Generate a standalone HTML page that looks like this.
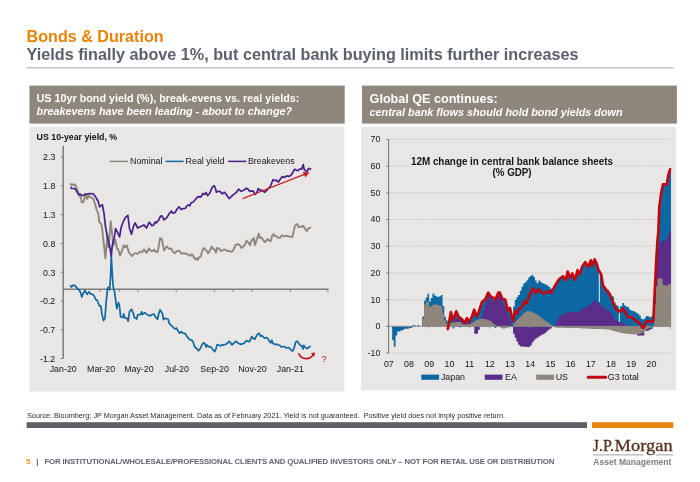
<!DOCTYPE html>
<html><head><meta charset="utf-8"><title>Bonds &amp; Duration</title>
<style>
html,body{margin:0;padding:0;background:#fff;}
body{width:700px;height:482px;overflow:hidden;font-family:"Liberation Sans",Arial,sans-serif;}
svg{display:block;}
text{font-family:"Liberation Sans",Arial,sans-serif;}
.ax{font-size:8.85px;fill:#14141c;}
.ct{font-size:10.2px;font-weight:bold;fill:#15151c;}
.lt{font-size:8.8px;font-weight:bold;fill:#111;}
.h1{font-size:16px;font-weight:bold;fill:#ec8205;}
.h2{font-size:16.15px;font-weight:bold;fill:#5a616d;}
.ph{font-size:10.75px;font-weight:bold;fill:#fff;}
.phi{font-size:10.78px;font-weight:bold;font-style:italic;fill:#fff;}
.src{font-size:7.7px;fill:#2a2a2a;}
.ft{font-size:7.8px;font-weight:bold;fill:#5f6570;}
</style></head><body>
<svg width="700" height="482" viewBox="0 0 700 482">
<rect width="700" height="482" fill="#fff"/>
<text x="26.6" y="41.5" class="h1" textLength="137" lengthAdjust="spacingAndGlyphs">Bonds &amp; Duration</text>
<text x="26.6" y="59.8" class="h2" textLength="552" lengthAdjust="spacingAndGlyphs">Yields finally above 1%, but central bank buying limits further increases</text>
<rect x="26.6" y="67.3" width="646.8" height="1" fill="#a9a9a9"/>
<!-- left panel -->
<rect x="29.5" y="85.6" width="315.2" height="38" fill="#8f877c"/>
<rect x="29.5" y="127" width="314.9" height="264.4" fill="#e8e7e5"/>
<text x="36.6" y="101.6" class="ph" textLength="262.7" lengthAdjust="spacingAndGlyphs">US 10yr bond yield (%), break-evens vs. real yields:</text>
<text x="36.6" y="114.8" class="phi" textLength="255.5" lengthAdjust="spacingAndGlyphs">breakevens have been leading - about to change?</text>
<line x1="63.2" x2="63.2" y1="145.8" y2="358.6" stroke="#7a7a7a" stroke-width="1.5"/>
<line x1="62.6" x2="328.5" y1="289.3" y2="289.3" stroke="#7a7a7a" stroke-width="1.5"/>
<line x1="60.6" x2="63.2" y1="157.0" y2="157.0" stroke="#808080" stroke-width="1"/>
<text x="55.3" y="160.4" text-anchor="end" class="ax">2.3</text>
<line x1="60.6" x2="63.2" y1="185.8" y2="185.8" stroke="#808080" stroke-width="1"/>
<text x="55.3" y="189.2" text-anchor="end" class="ax">1.8</text>
<line x1="60.6" x2="63.2" y1="214.6" y2="214.6" stroke="#808080" stroke-width="1"/>
<text x="55.3" y="218.0" text-anchor="end" class="ax">1.3</text>
<line x1="60.6" x2="63.2" y1="243.4" y2="243.4" stroke="#808080" stroke-width="1"/>
<text x="55.3" y="246.8" text-anchor="end" class="ax">0.8</text>
<line x1="60.6" x2="63.2" y1="272.2" y2="272.2" stroke="#808080" stroke-width="1"/>
<text x="55.3" y="275.6" text-anchor="end" class="ax">0.3</text>
<line x1="60.6" x2="63.2" y1="301.0" y2="301.0" stroke="#808080" stroke-width="1"/>
<text x="55.3" y="304.4" text-anchor="end" class="ax">-0.2</text>
<line x1="60.6" x2="63.2" y1="329.8" y2="329.8" stroke="#808080" stroke-width="1"/>
<text x="55.3" y="333.2" text-anchor="end" class="ax">-0.7</text>
<line x1="60.6" x2="63.2" y1="358.6" y2="358.6" stroke="#808080" stroke-width="1"/>
<text x="55.3" y="362.0" text-anchor="end" class="ax">-1.2</text>
<line x1="100.2" x2="100.2" y1="289.3" y2="292" stroke="#808080" stroke-width="1"/>
<line x1="119.2" x2="119.2" y1="289.3" y2="292" stroke="#808080" stroke-width="1"/>
<line x1="138" x2="138" y1="289.3" y2="292" stroke="#808080" stroke-width="1"/>
<line x1="176.2" x2="176.2" y1="289.3" y2="292" stroke="#808080" stroke-width="1"/>
<line x1="214.3" x2="214.3" y1="289.3" y2="292" stroke="#808080" stroke-width="1"/>
<line x1="233" x2="233" y1="289.3" y2="292" stroke="#808080" stroke-width="1"/>
<line x1="252.2" x2="252.2" y1="289.3" y2="292" stroke="#808080" stroke-width="1"/>
<line x1="290.4" x2="290.4" y1="289.3" y2="292" stroke="#808080" stroke-width="1"/>
<line x1="327.9" x2="327.9" y1="289.3" y2="292" stroke="#808080" stroke-width="1"/>
<text x="63.2" y="371.9" text-anchor="middle" class="ax">Jan-20</text>
<text x="101.1" y="371.9" text-anchor="middle" class="ax">Mar-20</text>
<text x="138.9" y="371.9" text-anchor="middle" class="ax">May-20</text>
<text x="176.8" y="371.9" text-anchor="middle" class="ax">Jul-20</text>
<text x="214.6" y="371.9" text-anchor="middle" class="ax">Sep-20</text>
<text x="252.4" y="371.9" text-anchor="middle" class="ax">Nov-20</text>
<text x="290.3" y="371.9" text-anchor="middle" class="ax">Jan-21</text>
<polyline points="70.4,183.1 71.6,185.4 73.0,184.5 75.0,184.5 76.6,188.0 78.2,192.1 79.7,196.3 80.7,197.3 81.8,202.5 83.3,202.2 84.9,197.3 85.9,195.2 87.2,198.9 88.5,195.2 90.1,197.3 92.2,197.6 93.7,199.9 95.3,205.1 96.8,210.3 98.3,213.5 99.3,221.8 101.4,224.4 102.4,231.1 103.5,241.5 104.5,250.0 105.4,258.2 106.4,246.0 107.3,235.5 108.3,247.0 109.3,240.0 110.7,221.3 112.3,234.8 113.3,245.7 115.4,240.0 117.0,248.8 118.0,248.9 120.1,255.6 122.2,249.9 123.7,245.2 125.3,247.3 126.8,245.2 128.9,252.5 132.0,256.1 133.6,254.0 135.6,253.0 137.7,254.0 139.8,251.5 141.9,252.5 143.9,249.4 146.5,253.0 149.1,248.3 150.0,250.1 151.6,251.1 153.1,251.1 154.1,249.6 156.2,252.2 157.8,251.6 158.8,245.9 160.1,238.2 161.9,239.2 163.0,244.9 164.0,250.6 165.6,248.0 167.1,246.5 169.2,249.0 171.3,248.5 173.3,252.2 174.9,253.2 176.5,251.1 179.0,250.6 181.6,253.7 183.7,253.2 186.3,253.7 188.4,254.8 190.5,255.8 192.0,254.2 193.6,256.8 195.1,259.4 196.7,257.9 197.7,259.9 199.3,257.3 200.8,256.3 201.9,252.2 203.4,248.0 206.5,250.6 208.1,253.2 209.6,251.1 211.7,246.5 213.3,249.0 214.8,249.6 215.9,252.7 217.1,247.9 218.6,248.4 221.2,251.0 224.3,249.4 227.4,251.0 229.5,251.0 231.6,252.0 233.7,249.4 235.7,244.8 238.3,244.2 239.9,245.3 241.5,247.9 244.6,245.3 246.6,240.6 248.2,242.2 250.1,245.3 251.8,239.6 252.9,240.1 253.9,238.0 254.9,245.3 257.0,239.0 258.8,233.7 259.8,238.0 261.7,237.5 263.2,240.1 264.8,242.2 267.9,239.0 269.5,241.1 271.0,240.6 272.1,235.8 273.6,234.2 275.2,236.3 276.7,236.3 278.3,237.9 279.9,237.9 281.9,235.3 284.5,236.3 286.1,235.8 288.7,236.3 290.7,236.8 292.6,236.8 293.7,231.1 294.9,225.9 297.0,223.9 298.5,227.0 300.6,226.8 303.2,225.9 305.3,229.0 306.8,231.1 308.4,228.5 311.0,227.3" fill="none" stroke="#8f877c" stroke-width="1.9" stroke-linejoin="round"/>
<polyline points="70.4,285.3 71.4,287.0 73.0,285.4 75.0,285.4 76.6,287.7 78.2,289.2 79.7,290.8 80.7,292.9 81.8,297.0 83.3,293.4 84.9,290.3 85.9,292.3 87.2,294.4 89.0,291.8 90.6,293.9 92.7,294.4 94.2,296.0 95.8,299.6 97.3,300.5 99.3,305.6 100.9,306.1 101.9,313.9 103.5,320.6 105.0,318.0 106.1,302.4 107.7,287.7 108.8,287.2 109.6,289.8 110.6,275.7 111.3,256.5 112.4,275.7 113.1,286.1 114.5,291.5 115.4,298.3 116.8,308.7 118.5,302.4 119.6,306.6 120.6,317.0 122.7,317.5 123.7,313.9 124.8,318.0 126.8,318.0 128.2,321.1 129.4,311.8 131.5,309.2 133.1,312.8 134.6,318.0 136.2,318.0 136.7,319.0 137.7,314.9 140.8,314.4 141.6,311.8 142.4,314.4 144.5,312.8 147.1,314.4 150.2,315.9 152.1,314.5 153.9,314.0 155.2,316.6 157.5,319.2 158.8,313.5 160.1,309.9 162.4,313.5 163.5,319.7 165.0,318.2 166.6,318.7 168.2,319.2 169.2,323.3 171.3,325.4 173.3,327.5 174.9,329.0 176.5,328.0 178.0,331.1 179.6,333.2 181.1,331.6 183.2,333.2 185.3,333.7 186.8,336.3 188.9,338.9 190.5,340.0 191.6,340.2 193.1,341.8 194.7,347.0 196.7,348.5 198.5,350.6 200.4,348.5 201.9,344.9 203.5,342.8 205.0,343.9 206.1,347.0 207.1,344.9 208.7,347.0 210.2,346.5 211.8,348.0 213.3,350.1 214.7,351.6 215.9,349.0 217.0,344.9 218.5,344.9 220.1,345.9 222.7,344.9 225.8,344.4 227.9,342.8 229.2,341.3 230.5,342.8 232.0,344.9 234.1,342.8 236.2,341.3 238.2,343.3 241.3,344.4 243.9,343.3 246.5,340.7 249.1,341.8 250.7,339.2 251.7,336.6 253.2,338.2 254.8,339.2 256.3,336.1 257.8,334.0 259.1,333.3 260.4,336.1 261.9,335.6 263.5,337.1 265.0,338.2 266.6,337.6 268.2,339.2 269.7,341.8 270.7,342.8 271.8,340.2 272.8,343.3 274.9,344.4 277.5,344.4 279.6,345.4 281.6,347.0 284.2,346.5 286.3,348.0 288.9,347.5 290.5,349.6 292.5,351.1 294.1,348.0 295.6,342.3 297.2,341.3 298.8,343.3 300.3,345.4 301.9,345.9 303.1,349.0 303.9,345.4 305.5,347.5 307.1,348.5 308.6,347.5 310.7,346.1" fill="none" stroke="#0f69a1" stroke-width="1.7" stroke-linejoin="round"/>
<polyline points="70.4,187.2 71.6,188.5 74.0,188.5 75.6,189.5 77.1,192.1 78.7,194.7 80.2,194.2 82.3,195.7 83.9,195.2 84.9,194.2 87.5,194.2 89.6,193.5 93.2,193.9 95.3,196.3 97.3,200.0 97.9,200.4 99.6,206.9 101.0,205.6 102.4,204.7 104.0,213.5 105.6,227.5 107.6,237.4 109.7,246.8 111.3,256.1 112.3,244.7 114.2,238.5 115.6,228.5 117.5,232.3 119.6,236.9 121.1,227.5 123.2,221.8 125.3,217.6 127.9,215.4 129.4,228.0 131.5,234.2 133.6,225.9 135.1,222.8 137.7,228.0 140.8,226.5 143.9,224.9 146.5,228.0 149.1,222.3 150.0,223.0 151.6,225.6 153.6,225.1 155.2,222.0 156.2,223.0 158.8,219.9 160.4,216.3 161.9,215.8 164.0,219.9 166.6,217.9 169.2,213.7 171.3,211.1 172.8,213.2 174.9,212.7 177.5,208.5 179.0,206.8 181.1,209.6 183.2,208.5 185.3,208.5 186.8,205.9 188.4,204.9 189.9,205.9 191.0,202.8 193.0,202.3 195.6,199.2 198.2,196.6 200.8,197.1 202.9,193.5 204.5,194.5 206.0,192.4 207.6,195.6 209.6,193.5 212.2,187.3 214.1,185.7 215.4,188.3 216.4,192.4 217.9,191.4 219.9,191.3 222.4,193.9 224.5,192.3 226.6,194.9 229.2,198.6 231.3,196.5 234.4,193.9 235.9,192.9 238.5,189.2 241.1,191.3 243.7,190.3 246.3,188.2 247.9,189.2 249.9,191.3 253.0,190.8 255.1,194.4 256.7,192.9 258.2,188.7 260.3,190.3 262.4,190.3 264.5,192.3 266.5,190.8 268.1,188.7 270.3,186.5 271.6,183.2 273.1,179.6 274.7,180.6 276.2,180.1 278.3,182.2 280.4,179.0 282.4,176.5 284.5,177.5 286.6,175.9 289.2,176.5 291.8,174.4 293.3,171.3 294.7,169.2 296.5,170.2 298.0,170.7 299.6,169.2 301.6,169.2 303.2,164.5 304.2,169.7 305.8,170.7 307.3,171.3 308.4,168.7 309.9,168.7 311.2,169.5" fill="none" stroke="#4a1f8c" stroke-width="1.7" stroke-linejoin="round"/>
<line x1="109.6" x2="128" y1="161.4" y2="161.4" stroke="#8f877c" stroke-width="1.5"/><text x="130" y="164.3" class="ax">Nominal</text>
<line x1="165.6" x2="183.6" y1="161.4" y2="161.4" stroke="#0f69a1" stroke-width="1.5"/><text x="185.6" y="164.3" class="ax">Real yield</text>
<line x1="228.2" x2="246.3" y1="161.4" y2="161.4" stroke="#4a1f8c" stroke-width="1.5"/><text x="247.9" y="164.3" class="ax">Breakevens</text>
<line x1="242.7" y1="198.6" x2="305" y2="174.2" stroke="#cc1a22" stroke-width="1.3"/>
<polygon points="302.7,171.8 309.3,172.4 305.5,177.4" fill="#cc1a22"/>
<path d="M298.6,353.2 Q300.5,358.4 306.2,358.7 Q311,358.5 313.2,354.6" fill="none" stroke="#c4121c" stroke-width="1.7"/>
<polygon points="310.9,353 315,352.4 314.4,356.8" fill="#c4121c"/>
<text x="321.2" y="361.7" font-size="9.6" fill="#c4121c">?</text>
<text x="36.6" y="140" class="lt" textLength="80.6" lengthAdjust="spacingAndGlyphs">US 10-year yield, %</text>
<!-- right panel -->
<rect x="362" y="85.6" width="314.9" height="38" fill="#8f877c"/>
<rect x="361.2" y="127" width="314.8" height="263.5" fill="#e8e7e5"/>
<text x="369.6" y="103" class="ph" style="font-size:12.5px" textLength="128" lengthAdjust="spacingAndGlyphs">Global QE continues:</text>
<text x="369.6" y="115.9" class="phi" textLength="253" lengthAdjust="spacingAndGlyphs">central bank flows should hold bond yields down</text>
<line x1="388.8" x2="670.8" y1="353.0" y2="353.0" stroke="#c2c0bd" stroke-width="0.8" stroke-dasharray="1.6,1.1"/>
<line x1="388.8" x2="670.8" y1="299.6" y2="299.6" stroke="#c2c0bd" stroke-width="0.8" stroke-dasharray="1.6,1.1"/>
<line x1="388.8" x2="670.8" y1="272.9" y2="272.9" stroke="#c2c0bd" stroke-width="0.8" stroke-dasharray="1.6,1.1"/>
<line x1="388.8" x2="670.8" y1="246.2" y2="246.2" stroke="#c2c0bd" stroke-width="0.8" stroke-dasharray="1.6,1.1"/>
<line x1="388.8" x2="670.8" y1="219.5" y2="219.5" stroke="#c2c0bd" stroke-width="0.8" stroke-dasharray="1.6,1.1"/>
<line x1="388.8" x2="670.8" y1="192.8" y2="192.8" stroke="#c2c0bd" stroke-width="0.8" stroke-dasharray="1.6,1.1"/>
<line x1="388.8" x2="670.8" y1="166.1" y2="166.1" stroke="#c2c0bd" stroke-width="0.8" stroke-dasharray="1.6,1.1"/>
<line x1="388.8" x2="670.8" y1="139.4" y2="139.4" stroke="#c2c0bd" stroke-width="0.8" stroke-dasharray="1.6,1.1"/>
<path d="M388.80,326.3L388.80,326.3L390.48,326.3L390.48,326.3L392.16,326.3L392.16,326.3L393.84,326.3L393.84,326.3L395.52,326.3L395.52,326.3L397.20,326.3L397.20,326.3L398.88,326.3L398.88,326.3L400.56,326.3L400.56,326.3L402.24,326.3L402.24,326.3L403.92,326.3L403.92,326.3L405.60,326.3L405.60,326.3L407.28,326.3L407.28,326.3L408.96,326.3L408.96,326.3L410.64,326.3L410.64,326.3L412.32,326.3L412.32,325.3L414.00,325.3L414.00,325.3L415.68,325.3L415.68,326.3L417.36,326.3L417.36,325.0L419.04,325.0L419.04,326.3L420.72,326.3L420.72,326.3L422.40,326.3L422.40,316.5L424.08,316.5L424.08,300.8L425.76,300.8L425.76,297.5L427.44,297.5L427.44,293.8L429.12,293.8L429.12,301.6L430.80,301.6L430.80,297.9L432.48,297.9L432.48,293.6L434.16,293.6L434.16,295.5L435.84,295.5L435.84,296.2L437.52,296.2L437.52,297.2L439.20,297.2L439.20,296.2L440.88,296.2L440.88,295.0L442.56,295.0L442.56,305.9L444.24,305.9L444.24,317.1L445.92,317.1L445.92,320.2L447.60,320.2L447.60,324.5L449.28,324.5L449.28,316.3L450.96,316.3L450.96,315.4L452.64,315.4L452.64,319.8L454.32,319.8L454.32,314.7L456.00,314.7L456.00,312.4L457.68,312.4L457.68,316.3L459.36,316.3L459.36,317.8L461.04,317.8L461.04,319.1L462.72,319.1L462.72,322.1L464.40,322.1L464.40,321.5L466.08,321.5L466.08,318.3L467.76,318.3L467.76,320.3L469.44,320.3L469.44,320.0L471.12,320.0L471.12,316.5L472.80,316.5L472.80,311.4L474.48,311.4L474.48,313.0L476.16,313.0L476.16,315.7L477.84,315.7L477.84,311.7L479.52,311.7L479.52,306.8L481.20,306.8L481.20,301.9L482.88,301.9L482.88,300.6L484.56,300.6L484.56,298.9L486.24,298.9L486.24,295.1L487.92,295.1L487.92,293.5L489.60,293.5L489.60,296.2L491.28,296.2L491.28,297.2L492.96,297.2L492.96,298.1L494.64,298.1L494.64,298.9L496.32,298.9L496.32,295.4L498.00,295.4L498.00,292.6L499.68,292.6L499.68,294.2L501.36,294.2L501.36,298.5L503.04,298.5L503.04,299.2L504.72,299.2L504.72,300.9L506.40,300.9L506.40,307.6L508.08,307.6L508.08,309.4L509.76,309.4L509.76,310.7L511.44,310.7L511.44,318.2L513.12,318.2L513.12,306.5L514.80,306.5L514.80,300.0L516.48,300.0L516.48,297.1L518.16,297.1L518.16,294.9L519.84,294.9L519.84,290.7L521.52,290.7L521.52,286.8L523.20,286.8L523.20,283.5L524.88,283.5L524.88,282.3L526.56,282.3L526.56,280.3L528.24,280.3L528.24,277.5L529.92,277.5L529.92,276.0L531.60,276.0L531.60,274.7L533.28,274.7L533.28,277.1L534.96,277.1L534.96,280.5L536.64,280.5L536.64,283.3L538.32,283.3L538.32,280.4L540.00,280.4L540.00,281.7L541.68,281.7L541.68,282.9L543.36,282.9L543.36,283.7L545.04,283.7L545.04,284.5L546.72,284.5L546.72,285.6L548.40,285.6L548.40,286.8L550.08,286.8L550.08,288.5L551.76,288.5L551.76,289.3L553.44,289.3L553.44,286.6L555.12,286.6L555.12,283.9L556.80,283.9L556.80,281.4L558.48,281.4L558.48,278.9L560.16,278.9L560.16,277.6L561.84,277.6L561.84,276.4L563.52,276.4L563.52,278.2L565.20,278.2L565.20,278.5L566.88,278.5L566.88,271.8L568.56,271.8L568.56,275.7L570.24,275.7L570.24,276.4L571.92,276.4L571.92,274.5L573.60,274.5L573.60,278.4L575.28,278.4L575.28,275.8L576.96,275.8L576.96,270.6L578.64,270.6L578.64,273.9L580.32,273.9L580.32,269.9L582.00,269.9L582.00,265.4L583.68,265.4L583.68,263.2L585.36,263.2L585.36,263.6L587.04,263.6L587.04,266.4L588.72,266.4L588.72,263.4L590.40,263.4L590.40,261.8L592.08,261.8L592.08,263.9L593.76,263.9L593.76,259.3L595.44,259.3L595.44,262.7L597.12,262.7L597.12,268.1L598.80,268.1L598.80,271.7L600.48,271.7L600.48,275.0L602.16,275.0L602.16,284.6L603.84,284.6L603.84,286.8L605.52,286.8L605.52,288.7L607.20,288.7L607.20,289.8L608.88,289.8L608.88,292.4L610.56,292.4L610.56,295.8L612.24,295.8L612.24,296.6L613.92,296.6L613.92,302.5L615.60,302.5L615.60,305.0L617.28,305.0L617.28,306.2L618.96,306.2L618.96,307.3L620.64,307.3L620.64,306.0L622.32,306.0L622.32,302.9L624.00,302.9L624.00,305.2L625.68,305.2L625.68,306.4L627.36,306.4L627.36,307.0L629.04,307.0L629.04,309.5L630.72,309.5L630.72,310.4L632.40,310.4L632.40,311.1L634.08,311.1L634.08,311.8L635.76,311.8L635.76,312.8L637.44,312.8L637.44,313.8L639.12,313.8L639.12,315.4L640.80,315.4L640.80,318.8L642.48,318.8L642.48,319.4L644.16,319.4L644.16,318.3L645.84,318.3L645.84,315.9L647.52,315.9L647.52,316.3L649.20,316.3L649.20,317.2L650.88,317.2L650.88,316.4L652.56,316.4L652.56,316.0L654.24,316.0L654.24,283.7L655.92,283.7L655.92,251.8L657.60,251.8L657.60,228.4L659.28,228.4L659.28,200.7L660.96,200.7L660.96,190.2L662.64,190.2L662.64,184.3L664.32,184.3L664.32,184.3L666.00,184.3L666.00,183.5L667.68,183.5L667.68,174.4L669.36,174.4L669.36,169.3L671.04,169.3L671.04,326.3Z" fill="#0b68a2"/>
<path d="M388.80,326.3L388.80,326.3L390.48,326.3L390.48,326.3L392.16,326.3L392.16,340.3L393.84,340.3L393.84,346.8L395.52,346.8L395.52,335.6L397.20,335.6L397.20,331.5L398.88,331.5L398.88,331.5L400.56,331.5L400.56,330.2L402.24,330.2L402.24,330.2L403.92,330.2L403.92,328.8L405.60,328.8L405.60,328.8L407.28,328.8L407.28,328.8L408.96,328.8L408.96,327.9L410.64,327.9L410.64,327.9L412.32,327.9L412.32,326.3L414.00,326.3L414.00,326.3L415.68,326.3L415.68,326.3L417.36,326.3L417.36,326.3L419.04,326.3L419.04,326.3L420.72,326.3L420.72,326.3L422.40,326.3L422.40,326.3L424.08,326.3L424.08,326.3L425.76,326.3L425.76,326.3L427.44,326.3L427.44,326.3L429.12,326.3L429.12,326.3L430.80,326.3L430.80,326.3L432.48,326.3L432.48,326.3L434.16,326.3L434.16,326.3L435.84,326.3L435.84,326.3L437.52,326.3L437.52,326.3L439.20,326.3L439.20,326.3L440.88,326.3L440.88,326.3L442.56,326.3L442.56,326.3L444.24,326.3L444.24,326.3L445.92,326.3L445.92,326.3L447.60,326.3L447.60,326.3L449.28,326.3L449.28,326.3L450.96,326.3L450.96,326.3L452.64,326.3L452.64,328.4L454.32,328.4L454.32,326.3L456.00,326.3L456.00,326.3L457.68,326.3L457.68,326.3L459.36,326.3L459.36,327.6L461.04,327.6L461.04,326.3L462.72,326.3L462.72,326.3L464.40,326.3L464.40,326.3L466.08,326.3L466.08,326.3L467.76,326.3L467.76,326.3L469.44,326.3L469.44,326.3L471.12,326.3L471.12,326.3L472.80,326.3L472.80,326.3L474.48,326.3L474.48,333.0L476.16,333.0L476.16,333.0L477.84,333.0L477.84,329.2L479.52,329.2L479.52,326.3L481.20,326.3L481.20,326.3L482.88,326.3L482.88,326.3L484.56,326.3L484.56,326.3L486.24,326.3L486.24,326.3L487.92,326.3L487.92,326.3L489.60,326.3L489.60,326.3L491.28,326.3L491.28,326.3L492.96,326.3L492.96,326.3L494.64,326.3L494.64,327.9L496.32,327.9L496.32,326.3L498.00,326.3L498.00,326.3L499.68,326.3L499.68,326.8L501.36,326.8L501.36,327.4L503.04,327.4L503.04,328.0L504.72,328.0L504.72,327.5L506.40,327.5L506.40,327.0L508.08,327.0L508.08,326.5L509.76,326.5L509.76,326.3L511.44,326.3L511.44,326.3L513.12,326.3L513.12,332.9L514.80,332.9L514.80,336.9L516.48,336.9L516.48,340.8L518.16,340.8L518.16,344.0L519.84,344.0L519.84,345.6L521.52,345.6L521.52,345.7L523.20,345.7L523.20,345.9L524.88,345.9L524.88,346.0L526.56,346.0L526.56,346.2L528.24,346.2L528.24,346.3L529.92,346.3L529.92,344.8L531.60,344.8L531.60,341.7L533.28,341.7L533.28,339.7L534.96,339.7L534.96,338.0L536.64,338.0L536.64,336.9L538.32,336.9L538.32,335.8L540.00,335.8L540.00,334.7L541.68,334.7L541.68,333.7L543.36,333.7L543.36,332.9L545.04,332.9L545.04,331.7L546.72,331.7L546.72,330.0L548.40,330.0L548.40,328.8L550.08,328.8L550.08,327.7L551.76,327.7L551.76,326.3L553.44,326.3L553.44,326.3L555.12,326.3L555.12,326.9L556.80,326.9L556.80,326.9L558.48,326.9L558.48,327.0L560.16,327.0L560.16,327.0L561.84,327.0L561.84,327.0L563.52,327.0L563.52,327.0L565.20,327.0L565.20,327.1L566.88,327.1L566.88,327.1L568.56,327.1L568.56,327.1L570.24,327.1L570.24,327.1L571.92,327.1L571.92,327.2L573.60,327.2L573.60,327.2L575.28,327.2L575.28,327.3L576.96,327.3L576.96,327.3L578.64,327.3L578.64,327.4L580.32,327.4L580.32,327.5L582.00,327.5L582.00,327.6L583.68,327.6L583.68,327.7L585.36,327.7L585.36,327.8L587.04,327.8L587.04,327.9L588.72,327.9L588.72,328.0L590.40,328.0L590.40,328.0L592.08,328.0L592.08,328.1L593.76,328.1L593.76,328.1L595.44,328.1L595.44,328.2L597.12,328.2L597.12,328.2L598.80,328.2L598.80,328.3L600.48,328.3L600.48,328.3L602.16,328.3L602.16,328.4L603.84,328.4L603.84,328.5L605.52,328.5L605.52,328.6L607.20,328.6L607.20,328.7L608.88,328.7L608.88,329.0L610.56,329.0L610.56,329.4L612.24,329.4L612.24,329.9L613.92,329.9L613.92,330.4L615.60,330.4L615.60,330.9L617.28,330.9L617.28,331.3L618.96,331.3L618.96,331.7L620.64,331.7L620.64,332.1L622.32,332.1L622.32,332.4L624.00,332.4L624.00,332.6L625.68,332.6L625.68,332.9L627.36,332.9L627.36,333.0L629.04,333.0L629.04,333.2L630.72,333.2L630.72,333.4L632.40,333.4L632.40,333.5L634.08,333.5L634.08,333.6L635.76,333.6L635.76,333.4L637.44,333.4L637.44,334.9L639.12,334.9L639.12,334.8L640.80,334.8L640.80,334.8L642.48,334.8L642.48,334.7L644.16,334.7L644.16,330.2L645.84,330.2L645.84,330.1L647.52,330.1L647.52,329.7L649.20,329.7L649.20,329.0L650.88,329.0L650.88,328.1L652.56,328.1L652.56,326.3L654.24,326.3L654.24,326.3L655.92,326.3L655.92,326.3L657.60,326.3L657.60,326.3L659.28,326.3L659.28,326.3L660.96,326.3L660.96,326.3L662.64,326.3L662.64,326.3L664.32,326.3L664.32,326.3L666.00,326.3L666.00,326.3L667.68,326.3L667.68,326.3L669.36,326.3L669.36,326.3L671.04,326.3L671.04,326.3Z" fill="#0b68a2"/>
<path d="M388.80,326.3L388.80,326.3L390.48,326.3L390.48,326.3L392.16,326.3L392.16,326.3L393.84,326.3L393.84,326.3L395.52,326.3L395.52,326.3L397.20,326.3L397.20,326.3L398.88,326.3L398.88,326.3L400.56,326.3L400.56,326.3L402.24,326.3L402.24,326.3L403.92,326.3L403.92,326.3L405.60,326.3L405.60,326.3L407.28,326.3L407.28,326.3L408.96,326.3L408.96,326.3L410.64,326.3L410.64,326.3L412.32,326.3L412.32,326.3L414.00,326.3L414.00,326.3L415.68,326.3L415.68,326.3L417.36,326.3L417.36,326.3L419.04,326.3L419.04,326.3L420.72,326.3L420.72,326.3L422.40,326.3L422.40,319.5L424.08,319.5L424.08,305.2L425.76,305.2L425.76,302.7L427.44,302.7L427.44,302.3L429.12,302.3L429.12,307.5L430.80,307.5L430.80,307.0L432.48,307.0L432.48,305.4L434.16,305.4L434.16,305.4L435.84,305.4L435.84,305.4L437.52,305.4L437.52,306.1L439.20,306.1L439.20,306.4L440.88,306.4L440.88,307.3L442.56,307.3L442.56,314.3L444.24,314.3L444.24,320.9L445.92,320.9L445.92,324.5L447.60,324.5L447.60,324.5L449.28,324.5L449.28,324.3L450.96,324.3L450.96,323.9L452.64,323.9L452.64,323.4L454.32,323.4L454.32,320.7L456.00,320.7L456.00,318.2L457.68,318.2L457.68,318.8L459.36,318.8L459.36,319.7L461.04,319.7L461.04,320.6L462.72,320.6L462.72,321.3L464.40,321.3L464.40,321.9L466.08,321.9L466.08,322.2L467.76,322.2L467.76,322.2L469.44,322.2L469.44,322.8L471.12,322.8L471.12,323.9L472.80,323.9L472.80,322.8L474.48,322.8L474.48,321.7L476.16,321.7L476.16,320.9L477.84,320.9L477.84,320.2L479.52,320.2L479.52,319.5L481.20,319.5L481.20,316.6L482.88,316.6L482.88,311.0L484.56,311.0L484.56,305.4L486.24,305.4L486.24,300.2L487.92,300.2L487.92,296.3L489.60,296.3L489.60,298.5L491.28,298.5L491.28,300.6L492.96,300.6L492.96,300.9L494.64,300.9L494.64,298.1L496.32,298.1L496.32,295.7L498.00,295.7L498.00,293.6L499.68,293.6L499.68,297.0L501.36,297.0L501.36,301.0L503.04,301.0L503.04,304.4L504.72,304.4L504.72,309.0L506.40,309.0L506.40,312.7L508.08,312.7L508.08,316.3L509.76,316.3L509.76,320.9L511.44,320.9L511.44,325.4L513.12,325.4L513.12,324.6L514.80,324.6L514.80,322.5L516.48,322.5L516.48,320.7L518.16,320.7L518.16,319.1L519.84,319.1L519.84,317.4L521.52,317.4L521.52,315.7L523.20,315.7L523.20,314.1L524.88,314.1L524.88,312.9L526.56,312.9L526.56,311.6L528.24,311.6L528.24,312.0L529.92,312.0L529.92,312.4L531.60,312.4L531.60,313.0L533.28,313.0L533.28,313.7L534.96,313.7L534.96,314.6L536.64,314.6L536.64,315.6L538.32,315.6L538.32,316.7L540.00,316.7L540.00,318.0L541.68,318.0L541.68,319.2L543.36,319.2L543.36,320.5L545.04,320.5L545.04,321.7L546.72,321.7L546.72,323.0L548.40,323.0L548.40,324.2L550.08,324.2L550.08,325.4L551.76,325.4L551.76,326.3L553.44,326.3L553.44,326.3L555.12,326.3L555.12,323.2L556.80,323.2L556.80,320.2L558.48,320.2L558.48,316.3L560.16,316.3L560.16,315.5L561.84,315.5L561.84,314.6L563.52,314.6L563.52,313.8L565.20,313.8L565.20,313.0L566.88,313.0L566.88,312.5L568.56,312.5L568.56,312.2L570.24,312.2L570.24,311.9L571.92,311.9L571.92,311.8L573.60,311.8L573.60,312.0L575.28,312.0L575.28,312.2L576.96,312.2L576.96,312.5L578.64,312.5L578.64,311.5L580.32,311.5L580.32,309.5L582.00,309.5L582.00,308.7L583.68,308.7L583.68,307.8L585.36,307.8L585.36,307.0L587.04,307.0L587.04,306.0L588.72,306.0L588.72,305.0L590.40,305.0L590.40,303.8L592.08,303.8L592.08,301.6L593.76,301.6L593.76,299.5L595.44,299.5L595.44,301.2L597.12,301.2L597.12,302.9L598.80,302.9L598.80,304.3L600.48,304.3L600.48,305.6L602.16,305.6L602.16,307.0L603.84,307.0L603.84,308.0L605.52,308.0L605.52,309.0L607.20,309.0L607.20,310.1L608.88,310.1L608.88,311.8L610.56,311.8L610.56,313.5L612.24,313.5L612.24,315.9L613.92,315.9L613.92,319.2L615.60,319.2L615.60,320.6L617.28,320.6L617.28,321.3L618.96,321.3L618.96,322.0L620.64,322.0L620.64,322.8L622.32,322.8L622.32,323.6L624.00,323.6L624.00,324.3L625.68,324.3L625.68,325.0L627.36,325.0L627.36,325.5L629.04,325.5L629.04,326.0L630.72,326.0L630.72,326.3L632.40,326.3L632.40,326.3L634.08,326.3L634.08,326.3L635.76,326.3L635.76,326.3L637.44,326.3L637.44,326.3L639.12,326.3L639.12,326.3L640.80,326.3L640.80,326.3L642.48,326.3L642.48,326.3L644.16,326.3L644.16,326.3L645.84,326.3L645.84,326.3L647.52,326.3L647.52,326.3L649.20,326.3L649.20,326.3L650.88,326.3L650.88,326.3L652.56,326.3L652.56,326.3L654.24,326.3L654.24,302.7L655.92,302.7L655.92,263.7L657.60,263.7L657.60,248.7L659.28,248.7L659.28,242.6L660.96,242.6L660.96,240.8L662.64,240.8L662.64,240.0L664.32,240.0L664.32,241.6L666.00,241.6L666.00,238.7L667.68,238.7L667.68,235.3L669.36,235.3L669.36,231.5L671.04,231.5L671.04,326.3Z" fill="#5b2d89"/>
<path d="M388.80,326.3L388.80,326.3L390.48,326.3L390.48,326.3L392.16,326.3L392.16,326.3L393.84,326.3L393.84,326.3L395.52,326.3L395.52,326.3L397.20,326.3L397.20,326.3L398.88,326.3L398.88,326.3L400.56,326.3L400.56,326.3L402.24,326.3L402.24,326.3L403.92,326.3L403.92,326.3L405.60,326.3L405.60,326.3L407.28,326.3L407.28,326.3L408.96,326.3L408.96,326.3L410.64,326.3L410.64,326.3L412.32,326.3L412.32,326.3L414.00,326.3L414.00,326.3L415.68,326.3L415.68,326.3L417.36,326.3L417.36,326.3L419.04,326.3L419.04,326.3L420.72,326.3L420.72,326.3L422.40,326.3L422.40,326.3L424.08,326.3L424.08,326.3L425.76,326.3L425.76,326.3L427.44,326.3L427.44,326.3L429.12,326.3L429.12,326.3L430.80,326.3L430.80,326.3L432.48,326.3L432.48,326.3L434.16,326.3L434.16,326.3L435.84,326.3L435.84,326.3L437.52,326.3L437.52,326.3L439.20,326.3L439.20,326.3L440.88,326.3L440.88,326.3L442.56,326.3L442.56,326.3L444.24,326.3L444.24,326.3L445.92,326.3L445.92,326.3L447.60,326.3L447.60,326.3L449.28,326.3L449.28,326.3L450.96,326.3L450.96,326.3L452.64,326.3L452.64,326.3L454.32,326.3L454.32,326.3L456.00,326.3L456.00,326.3L457.68,326.3L457.68,326.3L459.36,326.3L459.36,326.3L461.04,326.3L461.04,326.3L462.72,326.3L462.72,326.3L464.40,326.3L464.40,326.3L466.08,326.3L466.08,326.3L467.76,326.3L467.76,326.3L469.44,326.3L469.44,326.3L471.12,326.3L471.12,326.3L472.80,326.3L472.80,326.3L474.48,326.3L474.48,333.8L476.16,333.8L476.16,333.8L477.84,333.8L477.84,330.0L479.52,330.0L479.52,326.7L481.20,326.7L481.20,326.3L482.88,326.3L482.88,326.3L484.56,326.3L484.56,326.3L486.24,326.3L486.24,326.3L487.92,326.3L487.92,326.3L489.60,326.3L489.60,326.3L491.28,326.3L491.28,326.3L492.96,326.3L492.96,326.3L494.64,326.3L494.64,326.3L496.32,326.3L496.32,326.3L498.00,326.3L498.00,326.3L499.68,326.3L499.68,326.8L501.36,326.8L501.36,327.4L503.04,327.4L503.04,328.0L504.72,328.0L504.72,327.5L506.40,327.5L506.40,327.0L508.08,327.0L508.08,326.5L509.76,326.5L509.76,326.3L511.44,326.3L511.44,327.0L513.12,327.0L513.12,333.7L514.80,333.7L514.80,337.7L516.48,337.7L516.48,341.6L518.16,341.6L518.16,344.8L519.84,344.8L519.84,346.4L521.52,346.4L521.52,346.5L523.20,346.5L523.20,346.7L524.88,346.7L524.88,346.8L526.56,346.8L526.56,347.0L528.24,347.0L528.24,347.1L529.92,347.1L529.92,345.6L531.60,345.6L531.60,342.5L533.28,342.5L533.28,340.5L534.96,340.5L534.96,338.8L536.64,338.8L536.64,337.7L538.32,337.7L538.32,336.6L540.00,336.6L540.00,335.5L541.68,335.5L541.68,334.5L543.36,334.5L543.36,333.7L545.04,333.7L545.04,332.5L546.72,332.5L546.72,330.8L548.40,330.8L548.40,329.6L550.08,329.6L550.08,328.5L551.76,328.5L551.76,326.4L553.44,326.4L553.44,326.3L555.12,326.3L555.12,326.9L556.80,326.9L556.80,326.9L558.48,326.9L558.48,327.0L560.16,327.0L560.16,327.0L561.84,327.0L561.84,327.0L563.52,327.0L563.52,327.0L565.20,327.0L565.20,327.1L566.88,327.1L566.88,327.1L568.56,327.1L568.56,327.1L570.24,327.1L570.24,327.1L571.92,327.1L571.92,327.2L573.60,327.2L573.60,327.2L575.28,327.2L575.28,327.3L576.96,327.3L576.96,327.3L578.64,327.3L578.64,327.4L580.32,327.4L580.32,327.5L582.00,327.5L582.00,327.6L583.68,327.6L583.68,327.7L585.36,327.7L585.36,327.8L587.04,327.8L587.04,327.9L588.72,327.9L588.72,328.0L590.40,328.0L590.40,328.0L592.08,328.0L592.08,328.1L593.76,328.1L593.76,328.1L595.44,328.1L595.44,328.2L597.12,328.2L597.12,328.2L598.80,328.2L598.80,328.3L600.48,328.3L600.48,328.3L602.16,328.3L602.16,328.4L603.84,328.4L603.84,328.5L605.52,328.5L605.52,328.6L607.20,328.6L607.20,328.7L608.88,328.7L608.88,329.0L610.56,329.0L610.56,329.4L612.24,329.4L612.24,329.9L613.92,329.9L613.92,330.4L615.60,330.4L615.60,330.9L617.28,330.9L617.28,331.3L618.96,331.3L618.96,331.7L620.64,331.7L620.64,332.1L622.32,332.1L622.32,332.4L624.00,332.4L624.00,332.6L625.68,332.6L625.68,332.9L627.36,332.9L627.36,333.0L629.04,333.0L629.04,333.2L630.72,333.2L630.72,333.4L632.40,333.4L632.40,333.5L634.08,333.5L634.08,333.6L635.76,333.6L635.76,333.4L637.44,333.4L637.44,335.7L639.12,335.7L639.12,335.6L640.80,335.6L640.80,335.6L642.48,335.6L642.48,335.5L644.16,335.5L644.16,330.2L645.84,330.2L645.84,330.9L647.52,330.9L647.52,330.5L649.20,330.5L649.20,329.8L650.88,329.8L650.88,328.9L652.56,328.9L652.56,326.3L654.24,326.3L654.24,326.3L655.92,326.3L655.92,326.3L657.60,326.3L657.60,326.3L659.28,326.3L659.28,326.3L660.96,326.3L660.96,326.3L662.64,326.3L662.64,326.3L664.32,326.3L664.32,326.3L666.00,326.3L666.00,326.3L667.68,326.3L667.68,326.3L669.36,326.3L669.36,326.3L671.04,326.3L671.04,326.3Z" fill="#5b2d89"/>
<path d="M388.80,326.3L388.80,326.3L390.48,326.3L390.48,326.3L392.16,326.3L392.16,326.3L393.84,326.3L393.84,326.3L395.52,326.3L395.52,326.3L397.20,326.3L397.20,326.3L398.88,326.3L398.88,326.3L400.56,326.3L400.56,326.3L402.24,326.3L402.24,326.3L403.92,326.3L403.92,326.3L405.60,326.3L405.60,326.3L407.28,326.3L407.28,326.3L408.96,326.3L408.96,326.3L410.64,326.3L410.64,326.3L412.32,326.3L412.32,326.3L414.00,326.3L414.00,326.3L415.68,326.3L415.68,326.3L417.36,326.3L417.36,326.3L419.04,326.3L419.04,326.3L420.72,326.3L420.72,326.3L422.40,326.3L422.40,318.7L424.08,318.7L424.08,304.4L425.76,304.4L425.76,301.9L427.44,301.9L427.44,301.5L429.12,301.5L429.12,306.7L430.80,306.7L430.80,306.2L432.48,306.2L432.48,304.6L434.16,304.6L434.16,304.6L435.84,304.6L435.84,304.6L437.52,304.6L437.52,305.3L439.20,305.3L439.20,305.6L440.88,305.6L440.88,306.5L442.56,306.5L442.56,313.5L444.24,313.5L444.24,320.1L445.92,320.1L445.92,323.7L447.60,323.7L447.60,323.7L449.28,323.7L449.28,323.5L450.96,323.5L450.96,323.1L452.64,323.1L452.64,322.6L454.32,322.6L454.32,322.2L456.00,322.2L456.00,322.1L457.68,322.1L457.68,322.1L459.36,322.1L459.36,322.1L461.04,322.1L461.04,323.4L462.72,323.4L462.72,324.5L464.40,324.5L464.40,324.5L466.08,324.5L466.08,324.5L467.76,324.5L467.76,324.3L469.44,324.3L469.44,323.9L471.12,323.9L471.12,323.1L472.80,323.1L472.80,322.0L474.48,322.0L474.48,320.9L476.16,320.9L476.16,320.1L477.84,320.1L477.84,319.4L479.52,319.4L479.52,318.7L481.20,318.7L481.20,318.7L482.88,318.7L482.88,318.9L484.56,318.9L484.56,319.1L486.24,319.1L486.24,319.7L487.92,319.7L487.92,320.2L489.60,320.2L489.60,321.1L491.28,321.1L491.28,322.4L492.96,322.4L492.96,323.8L494.64,323.8L494.64,325.2L496.32,325.2L496.32,326.3L498.00,326.3L498.00,326.3L499.68,326.3L499.68,326.3L501.36,326.3L501.36,326.3L503.04,326.3L503.04,326.3L504.72,326.3L504.72,326.3L506.40,326.3L506.40,326.3L508.08,326.3L508.08,326.3L509.76,326.3L509.76,326.3L511.44,326.3L511.44,326.3L513.12,326.3L513.12,323.8L514.80,323.8L514.80,321.7L516.48,321.7L516.48,319.9L518.16,319.9L518.16,318.3L519.84,318.3L519.84,316.6L521.52,316.6L521.52,314.9L523.20,314.9L523.20,313.3L524.88,313.3L524.88,312.1L526.56,312.1L526.56,310.8L528.24,310.8L528.24,311.2L529.92,311.2L529.92,311.6L531.60,311.6L531.60,312.2L533.28,312.2L533.28,312.9L534.96,312.9L534.96,313.8L536.64,313.8L536.64,314.8L538.32,314.8L538.32,315.9L540.00,315.9L540.00,317.2L541.68,317.2L541.68,318.4L543.36,318.4L543.36,319.7L545.04,319.7L545.04,320.9L546.72,320.9L546.72,322.2L548.40,322.2L548.40,323.4L550.08,323.4L550.08,324.6L551.76,324.6L551.76,325.7L553.44,325.7L553.44,326.3L555.12,326.3L555.12,326.3L556.80,326.3L556.80,326.3L558.48,326.3L558.48,326.3L560.16,326.3L560.16,326.3L561.84,326.3L561.84,326.3L563.52,326.3L563.52,326.3L565.20,326.3L565.20,326.3L566.88,326.3L566.88,326.3L568.56,326.3L568.56,326.3L570.24,326.3L570.24,326.3L571.92,326.3L571.92,326.3L573.60,326.3L573.60,326.3L575.28,326.3L575.28,326.3L576.96,326.3L576.96,326.3L578.64,326.3L578.64,326.3L580.32,326.3L580.32,326.3L582.00,326.3L582.00,326.3L583.68,326.3L583.68,326.3L585.36,326.3L585.36,326.3L587.04,326.3L587.04,326.3L588.72,326.3L588.72,326.3L590.40,326.3L590.40,326.3L592.08,326.3L592.08,326.3L593.76,326.3L593.76,326.3L595.44,326.3L595.44,326.3L597.12,326.3L597.12,326.3L598.80,326.3L598.80,326.3L600.48,326.3L600.48,326.3L602.16,326.3L602.16,326.3L603.84,326.3L603.84,326.3L605.52,326.3L605.52,326.3L607.20,326.3L607.20,326.3L608.88,326.3L608.88,326.3L610.56,326.3L610.56,326.3L612.24,326.3L612.24,326.3L613.92,326.3L613.92,326.3L615.60,326.3L615.60,326.3L617.28,326.3L617.28,326.3L618.96,326.3L618.96,326.3L620.64,326.3L620.64,326.3L622.32,326.3L622.32,326.3L624.00,326.3L624.00,326.3L625.68,326.3L625.68,326.3L627.36,326.3L627.36,326.3L629.04,326.3L629.04,326.3L630.72,326.3L630.72,326.3L632.40,326.3L632.40,326.3L634.08,326.3L634.08,326.3L635.76,326.3L635.76,326.3L637.44,326.3L637.44,326.3L639.12,326.3L639.12,326.3L640.80,326.3L640.80,326.3L642.48,326.3L642.48,326.3L644.16,326.3L644.16,326.3L645.84,326.3L645.84,326.3L647.52,326.3L647.52,326.3L649.20,326.3L649.20,326.3L650.88,326.3L650.88,326.3L652.56,326.3L652.56,326.3L654.24,326.3L654.24,303.9L655.92,303.9L655.92,285.8L657.60,285.8L657.60,278.8L659.28,278.8L659.28,277.9L660.96,277.9L660.96,278.8L662.64,278.8L662.64,284.7L664.32,284.7L664.32,285.3L666.00,285.3L666.00,285.8L667.68,285.8L667.68,284.4L669.36,284.4L669.36,283.7L671.04,283.7L671.04,326.3Z" fill="#8f877c"/>
<path d="M388.80,326.3L388.80,326.3L390.48,326.3L390.48,326.3L392.16,326.3L392.16,326.3L393.84,326.3L393.84,326.3L395.52,326.3L395.52,326.3L397.20,326.3L397.20,326.3L398.88,326.3L398.88,326.3L400.56,326.3L400.56,326.3L402.24,326.3L402.24,326.3L403.92,326.3L403.92,326.3L405.60,326.3L405.60,326.3L407.28,326.3L407.28,326.3L408.96,326.3L408.96,326.3L410.64,326.3L410.64,326.3L412.32,326.3L412.32,326.3L414.00,326.3L414.00,326.3L415.68,326.3L415.68,326.3L417.36,326.3L417.36,326.3L419.04,326.3L419.04,326.3L420.72,326.3L420.72,326.3L422.40,326.3L422.40,326.3L424.08,326.3L424.08,326.3L425.76,326.3L425.76,326.3L427.44,326.3L427.44,326.3L429.12,326.3L429.12,326.3L430.80,326.3L430.80,326.3L432.48,326.3L432.48,326.3L434.16,326.3L434.16,326.3L435.84,326.3L435.84,326.3L437.52,326.3L437.52,326.3L439.20,326.3L439.20,326.3L440.88,326.3L440.88,326.3L442.56,326.3L442.56,326.3L444.24,326.3L444.24,326.3L445.92,326.3L445.92,326.3L447.60,326.3L447.60,326.3L449.28,326.3L449.28,326.3L450.96,326.3L450.96,326.3L452.64,326.3L452.64,326.3L454.32,326.3L454.32,326.3L456.00,326.3L456.00,326.3L457.68,326.3L457.68,326.3L459.36,326.3L459.36,326.3L461.04,326.3L461.04,326.3L462.72,326.3L462.72,326.3L464.40,326.3L464.40,326.3L466.08,326.3L466.08,326.3L467.76,326.3L467.76,326.3L469.44,326.3L469.44,326.3L471.12,326.3L471.12,326.3L472.80,326.3L472.80,326.3L474.48,326.3L474.48,326.3L476.16,326.3L476.16,326.3L477.84,326.3L477.84,326.3L479.52,326.3L479.52,326.3L481.20,326.3L481.20,326.3L482.88,326.3L482.88,326.3L484.56,326.3L484.56,326.3L486.24,326.3L486.24,326.3L487.92,326.3L487.92,326.3L489.60,326.3L489.60,326.3L491.28,326.3L491.28,326.3L492.96,326.3L492.96,326.3L494.64,326.3L494.64,326.3L496.32,326.3L496.32,326.4L498.00,326.4L498.00,327.0L499.68,327.0L499.68,327.6L501.36,327.6L501.36,328.2L503.04,328.2L503.04,328.8L504.72,328.8L504.72,328.3L506.40,328.3L506.40,327.8L508.08,327.8L508.08,327.3L509.76,327.3L509.76,326.8L511.44,326.8L511.44,326.3L513.12,326.3L513.12,326.3L514.80,326.3L514.80,326.3L516.48,326.3L516.48,326.3L518.16,326.3L518.16,326.3L519.84,326.3L519.84,326.3L521.52,326.3L521.52,326.3L523.20,326.3L523.20,326.3L524.88,326.3L524.88,326.3L526.56,326.3L526.56,326.3L528.24,326.3L528.24,326.3L529.92,326.3L529.92,326.3L531.60,326.3L531.60,326.3L533.28,326.3L533.28,326.3L534.96,326.3L534.96,326.3L536.64,326.3L536.64,326.3L538.32,326.3L538.32,326.3L540.00,326.3L540.00,326.3L541.68,326.3L541.68,326.3L543.36,326.3L543.36,326.3L545.04,326.3L545.04,326.3L546.72,326.3L546.72,326.3L548.40,326.3L548.40,326.3L550.08,326.3L550.08,326.3L551.76,326.3L551.76,326.3L553.44,326.3L553.44,326.7L555.12,326.7L555.12,327.7L556.80,327.7L556.80,327.7L558.48,327.7L558.48,327.8L560.16,327.8L560.16,327.8L561.84,327.8L561.84,327.8L563.52,327.8L563.52,327.8L565.20,327.8L565.20,327.9L566.88,327.9L566.88,327.9L568.56,327.9L568.56,327.9L570.24,327.9L570.24,327.9L571.92,327.9L571.92,328.0L573.60,328.0L573.60,328.0L575.28,328.0L575.28,328.1L576.96,328.1L576.96,328.1L578.64,328.1L578.64,328.2L580.32,328.2L580.32,328.3L582.00,328.3L582.00,328.4L583.68,328.4L583.68,328.5L585.36,328.5L585.36,328.6L587.04,328.6L587.04,328.7L588.72,328.7L588.72,328.8L590.40,328.8L590.40,328.8L592.08,328.8L592.08,328.9L593.76,328.9L593.76,328.9L595.44,328.9L595.44,329.0L597.12,329.0L597.12,329.0L598.80,329.0L598.80,329.1L600.48,329.1L600.48,329.1L602.16,329.1L602.16,329.2L603.84,329.2L603.84,329.3L605.52,329.3L605.52,329.4L607.20,329.4L607.20,329.5L608.88,329.5L608.88,329.8L610.56,329.8L610.56,330.2L612.24,330.2L612.24,330.7L613.92,330.7L613.92,331.2L615.60,331.2L615.60,331.7L617.28,331.7L617.28,332.1L618.96,332.1L618.96,332.5L620.64,332.5L620.64,332.9L622.32,332.9L622.32,333.2L624.00,333.2L624.00,333.4L625.68,333.4L625.68,333.7L627.36,333.7L627.36,333.8L629.04,333.8L629.04,334.0L630.72,334.0L630.72,334.2L632.40,334.2L632.40,334.3L634.08,334.3L634.08,334.4L635.76,334.4L635.76,334.2L637.44,334.2L637.44,334.1L639.12,334.1L639.12,334.0L640.80,334.0L640.80,333.3L642.48,333.3L642.48,332.5L644.16,332.5L644.16,331.0L645.84,331.0L645.84,329.5L647.52,329.5L647.52,328.6L649.20,328.6L649.20,327.8L650.88,327.8L650.88,326.9L652.56,326.9L652.56,326.3L654.24,326.3L654.24,326.3L655.92,326.3L655.92,326.3L657.60,326.3L657.60,326.3L659.28,326.3L659.28,326.3L660.96,326.3L660.96,326.3L662.64,326.3L662.64,326.3L664.32,326.3L664.32,326.3L666.00,326.3L666.00,326.3L667.68,326.3L667.68,326.3L669.36,326.3L669.36,326.3L671.04,326.3L671.04,326.3Z" fill="#8f877c"/>
<line x1="599.3" x2="599.3" y1="272" y2="302" stroke="#eef0f3" stroke-width="1"/>
<line x1="619.3" x2="619.3" y1="306" y2="322" stroke="#eef0f3" stroke-width="1"/>
<line x1="388.6" x2="388.6" y1="139.3" y2="353.3" stroke="#777" stroke-width="1"/>
<line x1="386.3" x2="670.8" y1="326.3" y2="326.3" stroke="#8a8a8a" stroke-width="0.9"/>
<line x1="386.3" x2="388.6" y1="353.0" y2="353.0" stroke="#777" stroke-width="1"/>
<text x="380.4" y="355.9" text-anchor="end" class="ax">-10</text>
<line x1="386.3" x2="388.6" y1="326.3" y2="326.3" stroke="#777" stroke-width="1"/>
<text x="380.4" y="329.2" text-anchor="end" class="ax">0</text>
<line x1="386.3" x2="388.6" y1="299.6" y2="299.6" stroke="#777" stroke-width="1"/>
<text x="380.4" y="302.5" text-anchor="end" class="ax">10</text>
<line x1="386.3" x2="388.6" y1="272.9" y2="272.9" stroke="#777" stroke-width="1"/>
<text x="380.4" y="275.8" text-anchor="end" class="ax">20</text>
<line x1="386.3" x2="388.6" y1="246.2" y2="246.2" stroke="#777" stroke-width="1"/>
<text x="380.4" y="249.1" text-anchor="end" class="ax">30</text>
<line x1="386.3" x2="388.6" y1="219.5" y2="219.5" stroke="#777" stroke-width="1"/>
<text x="380.4" y="222.4" text-anchor="end" class="ax">40</text>
<line x1="386.3" x2="388.6" y1="192.8" y2="192.8" stroke="#777" stroke-width="1"/>
<text x="380.4" y="195.7" text-anchor="end" class="ax">50</text>
<line x1="386.3" x2="388.6" y1="166.1" y2="166.1" stroke="#777" stroke-width="1"/>
<text x="380.4" y="169.0" text-anchor="end" class="ax">60</text>
<line x1="386.3" x2="388.6" y1="139.4" y2="139.4" stroke="#777" stroke-width="1"/>
<text x="380.4" y="142.3" text-anchor="end" class="ax">70</text>
<line x1="388.8" x2="388.8" y1="326.3" y2="328.6" stroke="#8a8a8a" stroke-width="0.9"/>
<text x="388.8" y="366.6" text-anchor="middle" class="ax">07</text>
<line x1="409.0" x2="409.0" y1="326.3" y2="328.6" stroke="#8a8a8a" stroke-width="0.9"/>
<text x="409.0" y="366.6" text-anchor="middle" class="ax">08</text>
<line x1="429.1" x2="429.1" y1="326.3" y2="328.6" stroke="#8a8a8a" stroke-width="0.9"/>
<text x="429.2" y="366.6" text-anchor="middle" class="ax">09</text>
<line x1="449.3" x2="449.3" y1="326.3" y2="328.6" stroke="#8a8a8a" stroke-width="0.9"/>
<text x="449.4" y="366.6" text-anchor="middle" class="ax">10</text>
<line x1="469.4" x2="469.4" y1="326.3" y2="328.6" stroke="#8a8a8a" stroke-width="0.9"/>
<text x="469.6" y="366.6" text-anchor="middle" class="ax">11</text>
<line x1="489.6" x2="489.6" y1="326.3" y2="328.6" stroke="#8a8a8a" stroke-width="0.9"/>
<text x="489.8" y="366.6" text-anchor="middle" class="ax">12</text>
<line x1="509.8" x2="509.8" y1="326.3" y2="328.6" stroke="#8a8a8a" stroke-width="0.9"/>
<text x="510.0" y="366.6" text-anchor="middle" class="ax">13</text>
<line x1="529.9" x2="529.9" y1="326.3" y2="328.6" stroke="#8a8a8a" stroke-width="0.9"/>
<text x="530.2" y="366.6" text-anchor="middle" class="ax">14</text>
<line x1="550.1" x2="550.1" y1="326.3" y2="328.6" stroke="#8a8a8a" stroke-width="0.9"/>
<text x="550.4" y="366.6" text-anchor="middle" class="ax">15</text>
<line x1="570.2" x2="570.2" y1="326.3" y2="328.6" stroke="#8a8a8a" stroke-width="0.9"/>
<text x="570.6" y="366.6" text-anchor="middle" class="ax">16</text>
<line x1="590.4" x2="590.4" y1="326.3" y2="328.6" stroke="#8a8a8a" stroke-width="0.9"/>
<text x="590.8" y="366.6" text-anchor="middle" class="ax">17</text>
<line x1="610.6" x2="610.6" y1="326.3" y2="328.6" stroke="#8a8a8a" stroke-width="0.9"/>
<text x="611.0" y="366.6" text-anchor="middle" class="ax">18</text>
<line x1="630.7" x2="630.7" y1="326.3" y2="328.6" stroke="#8a8a8a" stroke-width="0.9"/>
<text x="631.2" y="366.6" text-anchor="middle" class="ax">19</text>
<line x1="650.9" x2="650.9" y1="326.3" y2="328.6" stroke="#8a8a8a" stroke-width="0.9"/>
<text x="651.4" y="366.6" text-anchor="middle" class="ax">20</text>
<line x1="670.6" x2="670.6" y1="326.3" y2="328.90000000000003" stroke="#8a8a8a" stroke-width="0.9"/>
<polyline points="447.8,329.1 450.9,312.0 453.2,320.6 456.3,311.2 458.7,316.7 461.8,319.0 464.6,322.9 466.8,318.2 469.6,321.4 471.9,316.7 474.2,309.7 476.6,316.7 478.9,311.2 482.0,301.9 485.1,299.6 488.2,292.6 490.6,296.5 493.7,298.0 495.3,299.6 498.4,292.6 499.9,292.6 502.3,298.8 505.2,299.5 508.0,310.6 510.0,308.0 512.9,321.0 515.4,311.0 517.1,313.6 519.0,308.9 521.8,307.1 524.6,301.4 526.5,303.3 529.3,295.8 533.0,288.4 535.8,293.0 538.6,289.3 542.4,293.0 545.2,293.0 548.9,291.2 550.8,293.0 553.6,288.4 555.5,284.6 559.2,279.0 562.9,276.2 565.7,280.0 567.6,271.5 570.4,278.1 572.3,273.4 575.1,280.0 577.5,270.0 579.7,274.3 582.5,265.9 585.3,262.1 588.1,266.8 590.9,260.3 592.2,265.9 594.6,259.3 596.5,263.1 598.4,269.6 601.2,274.3 603.0,285.5 605.8,289.3 609.6,293.9 612.4,300.5 615.2,307.9 618.9,311.7 622.7,308.9 625.5,312.6 628.3,317.3 632.0,317.3 634.8,320.1 639.5,322.9 642.3,327.6 643.8,327.6 646.0,322.0 648.8,321.0 651.6,322.0 653.3,321.0 654.3,300.0 655.5,275.0 656.7,252.8 657.5,240.0 658.3,232.0 659.3,206.6 661.1,193.6 663.0,184.3 666.7,184.3 668.6,174.0 670.1,169.3" fill="none" stroke="#c4030c" stroke-width="2.6" stroke-linejoin="round" stroke-linecap="round"/>
<rect x="409" y="155" width="205.5" height="24" fill="#e8e7e5"/>
<text x="512" y="164.9" text-anchor="middle" class="ct" textLength="202" lengthAdjust="spacingAndGlyphs">12M change in central bank balance sheets</text>
<text x="512" y="176.3" text-anchor="middle" class="ct" textLength="39" lengthAdjust="spacingAndGlyphs">(% GDP)</text>
<rect x="421.3" y="374.6" width="17.8" height="5.2" fill="#0b68a2"/><text x="440.9" y="380.4" class="ax">Japan</text>
<rect x="484.7" y="374.6" width="17.8" height="5.2" fill="#5b2d89"/><text x="505" y="380.4" class="ax">EA</text>
<rect x="536.2" y="374.6" width="17.8" height="5.2" fill="#8f877c"/><text x="555.7" y="380.4" class="ax">US</text>
<line x1="588.3" x2="605.6" y1="377.3" y2="377.3" stroke="#c4030c" stroke-width="3.1" stroke-linecap="round"/><text x="607.8" y="380.4" class="ax">G3 total</text>
<!-- footer -->
<text x="27" y="417.5" class="src" textLength="478" lengthAdjust="spacingAndGlyphs" xml:space="preserve">Source: Bloomberg; JP Morgan Asset Management. Data as of February 2021. Yield is not guaranteed.  Positive yield does not imply positive return.</text>
<rect x="26.6" y="422.2" width="560.4" height="5.8" fill="#5c6168"/>
<rect x="592" y="422.2" width="81.4" height="5.8" fill="#e8870e"/>
<text x="26" y="464.4" class="ft" fill="#e8861a" style="fill:#f0962e">5</text>
<text x="36.2" y="464.2" class="ft">|</text>
<text x="44.4" y="464.4" class="ft" textLength="510" lengthAdjust="spacing">FOR INSTITUTIONAL/WHOLESALE/PROFESSIONAL CLIENTS AND QUALIFIED INVESTORS ONLY – NOT FOR RETAIL USE OR DISTRIBUTION</text>
<!-- logo -->
<text y="451.3" style="font-family:'Liberation Serif',serif" font-size="17.3" fill="#55321f" stroke="#55321f" stroke-width="0.3"><tspan x="592.7" textLength="21.3" lengthAdjust="spacingAndGlyphs">J.P.</tspan><tspan x="614.6" textLength="58" lengthAdjust="spacingAndGlyphs">Morgan</tspan></text>
<rect x="592.8" y="454.4" width="50.8" height="1" fill="#a3a3a3"/>
<rect x="655.7" y="454.4" width="17.4" height="1" fill="#a3a3a3"/>
<text x="593.2" y="464.9" font-size="9" font-weight="bold" fill="#7e7e7e" textLength="78.2" lengthAdjust="spacingAndGlyphs">Asset Management</text>
</svg>
</body></html>
